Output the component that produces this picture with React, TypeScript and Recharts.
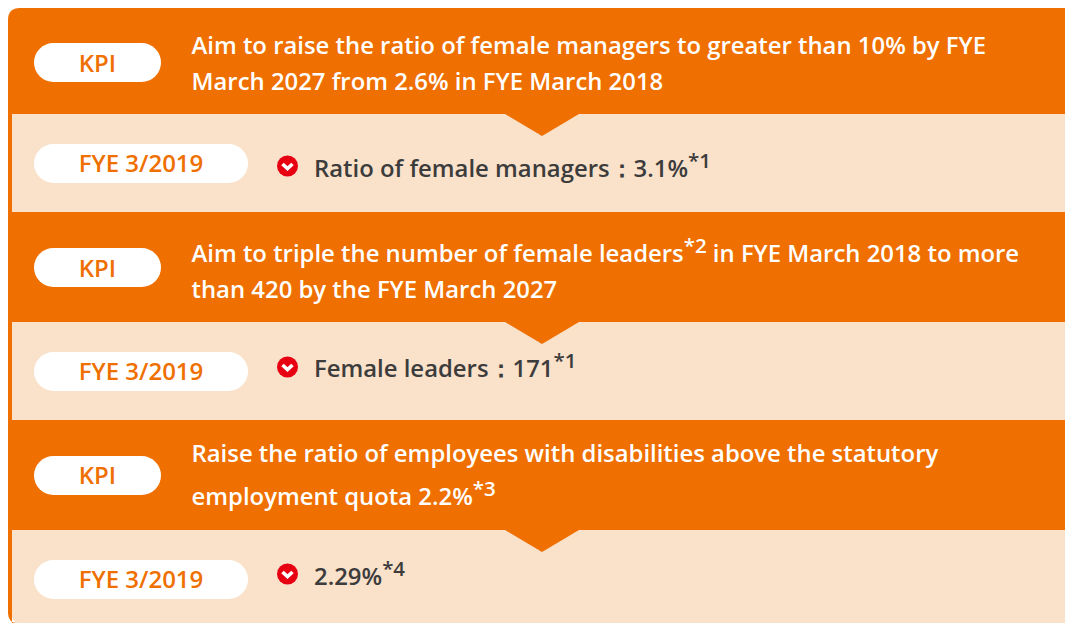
import React from "react";
import { BarChart, Bar, XAxis, YAxis } from "recharts";

const ORANGE = "#ef6f00";
const CREAM = "#fae1ca";
const INK = "#3c3c3c";
const FONT = "'Open Sans', sans-serif";

const bandKeys = ["kpi1", "res1", "kpi2", "res2", "kpi3", "res3"];
const bandHeights = [106, 98, 110, 98, 110, 93];
const kpiLabel = "KPI";
const resultLabel = "FYE 3/2019";
const kpi1Lines = ["Aim to raise the ratio of female managers to greater than 10% by FYE", "March 2027 from 2.6% in FYE March 2018"];
const kpi2Lines = [["Aim to triple the number of female leaders", "*2", " in FYE March 2018 to more"], ["than 420 by the FYE March 2027"]];
const kpi3Lines = [["Raise the ratio of employees with disabilities above the statutory"], ["employment quota 2.2%", "*3"]];
const results = [["Ratio of female managers：3.1%", "*1"], ["Female leaders：171", "*1"], ["2.29%", "*4"]];

const row: Record<string, number | string> = { name: "panel" };
bandKeys.forEach((k, i) => { row[k] = bandHeights[i]; });
const chartData = [row];

const Pill = ({ y, w, label, base }: { y: number; w: number; label: string; base: number }) => (
  <g>
    <rect x={34} y={y} width={w} height={39} rx={19.5} fill="#fff" />
    <text x={34 + w / 2} y={y + base} textAnchor="middle" fontFamily={FONT} fontWeight={600} fontSize={24} fill={ORANGE}>{label}</text>
  </g>
);

const Icon = ({ cy }: { cy: number }) => (
  <g>
    <circle cx={287.5} cy={cy} r={10.5} fill="#e60012" />
    <path d={`M282.5 ${cy - 2}L287.5 ${cy + 2.5}L292.5 ${cy - 2}`} fill="none" stroke="#fff" strokeWidth={3.6} />
  </g>
);

const Rich = ({ x, y, parts, fill, size, supSize, rise }: any) => (
  <text x={x} y={y} fontFamily={FONT} fontWeight={600} fontSize={size} fill={fill} xmlSpace="preserve">
    {parts.map((s: string, i: number) => {
      const sup = s.startsWith("*");
      return (
        <tspan key={i} fontSize={sup ? supSize : size} dy={sup ? -rise : i > 0 && parts[i - 1].startsWith("*") ? rise : 0}>{s}</tspan>
      );
    })}
  </text>
);

const Overlay = () => {
  const t = { fill: "#fff", size: 23.88, supSize: 20.5, rise: 9 };
  const d = { fill: INK, size: 23.88, supSize: 20.5, rise: 9 };
  return (
    <g>
      <Pill y={43} w={127} label={kpiLabel} base={29} />
      <Rich x={191.5} y={54} parts={[kpi1Lines[0]]} {...t} />
      <Rich x={191.5} y={90} parts={[kpi1Lines[1]]} {...t} />
      <Pill y={144} w={214} label={resultLabel} base={28} />
      <Icon cy={166} />
      <Rich x={314} y={177} parts={results[0]} {...d} />

      <Pill y={248} w={127} label={kpiLabel} base={29} />
      <Rich x={191.5} y={262} parts={kpi2Lines[0]} {...t} />
      <Rich x={191.5} y={298} parts={kpi2Lines[1]} {...t} />
      <Pill y={352} w={214} label={resultLabel} base={28} />
      <Icon cy={367} />
      <Rich x={314} y={377} parts={results[1]} {...d} />

      <Pill y={456} w={127} label={kpiLabel} base={28} />
      <Rich x={191.5} y={462} parts={kpi3Lines[0]} {...t} />
      <Rich x={191.5} y={505} parts={kpi3Lines[1]} {...t} />
      <Pill y={560} w={214} label={resultLabel} base={28} />
      <Icon cy={574} />
      <Rich x={314} y={585} parts={results[2]} {...d} />
    </g>
  );
};

const makeBand = (isKpi: boolean, isFirst: boolean, isLast: boolean) => (p: any) => {
  const height = Math.abs(p.height);
  const y = p.height < 0 ? p.y + p.height : p.y;
  const { x, width } = p;
  const r = 12;
  const R = x + width;
  const B = y + height;
  if (isKpi) {
    if (isFirst) {
      return <path d={`M${x} ${B}V${y + r}Q${x} ${y} ${x + r} ${y}H${R}V${B}Z`} fill={ORANGE} />;
    }
    return <rect x={x} y={y} width={width} height={height} fill={ORANGE} />;
  }
  const tip = 542;
  const half = 37;
  const arrow = <path d={`M${tip - half} ${y}L${tip} ${y + 22}L${tip + half} ${y}Z`} fill={ORANGE} />;
  if (isLast) {
    return (
      <g>
        <path d={`M${x} ${y}H${x + 4}V${B}H${x + 10}Q${x} ${B} ${x} ${B - 10}Z`} fill={ORANGE} />
        <path d={`M${x + 4} ${y}H${R}V${B}H${x + 11}Q${x + 4} ${B - 1} ${x + 4} ${B - 8}Z`} fill={CREAM} />
        {arrow}
        <Overlay />
      </g>
    );
  }
  return (
    <g>
      <rect x={x} y={y} width={4} height={height} fill={ORANGE} />
      <rect x={x + 4} y={y} width={width - 4} height={height} fill={CREAM} />
      {arrow}
    </g>
  );
};

export default function App() {
  return (
    <div style={{ position: "absolute", left: 0, top: 0, width: 1065, height: 623, overflow: "hidden", background: "#fff" }}>
      <BarChart width={1065} height={623} data={chartData} margin={{ top: 8, right: 0, bottom: 0, left: 8 }} barCategoryGap={0} barGap={0}>
        <XAxis dataKey="name" hide />
        <YAxis hide reversed domain={[0, 615]} type="number" allowDataOverflow />
        {bandKeys.map((k, i) => (
          <Bar key={k} dataKey={k} stackId="panel" isAnimationActive={false}
            shape={makeBand(i % 2 === 0, i === 0, i === bandKeys.length - 1)} />
        ))}
      </BarChart>
    </div>
  );
}
